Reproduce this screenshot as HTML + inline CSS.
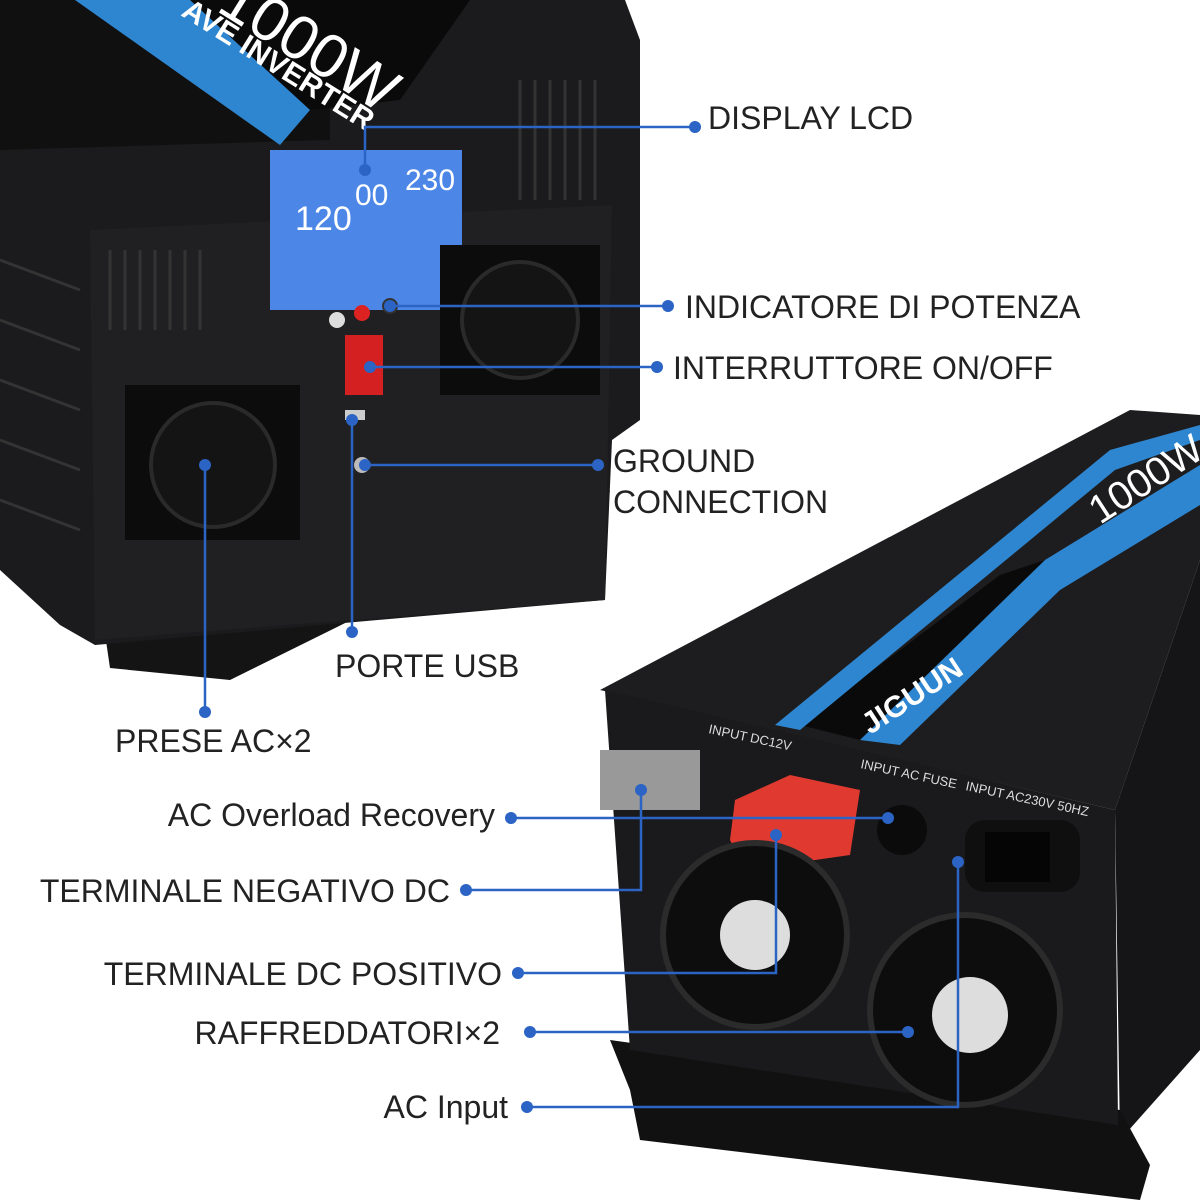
<!DOCTYPE html>
<html><head><meta charset="utf-8"><style>
html,body{margin:0;padding:0;background:#fff;}
svg{display:block;}
text{font-family:"Liberation Sans",sans-serif;}
</style></head><body>
<svg width="1200" height="1200" viewBox="0 0 1200 1200" xmlns="http://www.w3.org/2000/svg">
<rect width="1200" height="1200" fill="#fff"/>
<!-- TOP INVERTER -->
<polygon points="100,600 600,462 610,492 230,680 110,668" fill="#141414"/>
<polygon points="0,0 625,0 640,40 640,420 612,440 605,600 95,645 60,625 0,570" fill="#1b1b1d"/>
<polygon points="0,0 330,0 330,140 0,150" fill="#101010"/>
<polygon points="190,0 470,0 400,100 310,110" fill="#0a0a0a"/>
<polygon points="75,0 190,0 310,110 280,145" fill="#2f86d0"/>
<text x="0" y="0" transform="translate(180,15) rotate(32)" font-size="30" fill="#fff" font-weight="bold">AVE INVERTER</text>
<text x="0" y="0" transform="translate(215,10) rotate(32)" font-size="62" fill="#fff">1000W</text>
<polygon points="90,230 612,205 605,600 95,640" fill="#202022"/>
<g stroke="#333" stroke-width="3">
<line x1="110" y1="250" x2="110" y2="330"/><line x1="125" y1="250" x2="125" y2="330"/><line x1="140" y1="250" x2="140" y2="330"/><line x1="155" y1="250" x2="155" y2="330"/><line x1="170" y1="250" x2="170" y2="330"/><line x1="185" y1="250" x2="185" y2="330"/><line x1="200" y1="250" x2="200" y2="330"/>
<line x1="520" y1="80" x2="520" y2="200"/><line x1="535" y1="80" x2="535" y2="200"/><line x1="550" y1="80" x2="550" y2="200"/><line x1="565" y1="80" x2="565" y2="200"/><line x1="580" y1="80" x2="580" y2="200"/><line x1="595" y1="80" x2="595" y2="200"/>
<line x1="0" y1="260" x2="80" y2="290"/><line x1="0" y1="320" x2="80" y2="350"/><line x1="0" y1="380" x2="80" y2="410"/><line x1="0" y1="440" x2="80" y2="470"/><line x1="0" y1="500" x2="80" y2="530"/>
</g>
<rect x="270" y="150" width="192" height="160" fill="#4c86e6"/>
<text x="295" y="230" font-size="34" fill="#fff">120</text>
<text x="355" y="205" font-size="30" fill="#fff">00</text>
<text x="405" y="190" font-size="30" fill="#fff">230</text>
<rect x="125" y="385" width="175" height="155" fill="#0c0c0c"/>
<circle cx="213" cy="465" r="62" fill="#141414" stroke="#2a2a2a" stroke-width="4"/>
<rect x="440" y="245" width="160" height="150" fill="#0c0c0c"/>
<circle cx="520" cy="320" r="58" fill="#141414" stroke="#2a2a2a" stroke-width="4"/>
<rect x="345" y="335" width="38" height="60" fill="#d42020"/>
<circle cx="337" cy="320" r="8" fill="#ddd"/><circle cx="362" cy="313" r="8" fill="#d22"/><circle cx="390" cy="306" r="8" fill="#333"/>
<rect x="345" y="410" width="20" height="10" fill="#ccc"/>
<circle cx="362" cy="465" r="8" fill="#bbb"/>
<!-- BOTTOM INVERTER -->
<polygon points="600,690 1130,410 1200,415 1200,560 1115,810" fill="#1d1d1f"/>
<polygon points="800,725 1000,575 1045,560 860,740" fill="#0a0a0a"/>
<polygon points="860,740 1045,560 1200,465 1200,505 1060,590 900,745" fill="#2f86d0"/>
<polygon points="775,725 1110,450 1200,425 1200,440 1115,470 800,730" fill="#2f86d0"/>
<text transform="translate(1100,525) rotate(-33)" font-size="40" fill="#fff">1000W</text>
<text transform="translate(870,735) rotate(-33)" font-size="30" fill="#fff" font-weight="bold">JIGUUN</text>
<polygon points="1115,810 1200,560 1200,1050 1120,1140" fill="#151517"/>
<polygon points="610,1040 1120,1110 1150,1165 1140,1200 640,1140 630,1090" fill="#111"/>
<polygon points="605,690 1115,810 1118,1125 630,1050" fill="#1a1a1c"/>
<text transform="translate(708,733) rotate(12)" font-size="13" fill="#ddd" font-family="Liberation Serif">INPUT DC12V</text>
<text transform="translate(860,768) rotate(12)" font-size="13" fill="#ddd" font-family="Liberation Serif">INPUT AC FUSE</text>
<text transform="translate(965,790) rotate(12)" font-size="13" fill="#ddd" font-family="Liberation Serif">INPUT AC230V 50HZ</text>
<rect x="600" y="750" width="100" height="60" fill="#999"/>
<polygon points="735,800 790,775 860,790 850,855 745,870 730,840" fill="#e03a30"/>
<circle cx="902" cy="830" r="25" fill="#0b0b0b"/>
<rect x="965" y="820" width="115" height="72" rx="20" fill="#0f0f0f"/>
<rect x="985" y="832" width="65" height="50" fill="#050505"/>
<circle cx="755" cy="935" r="92" fill="#0d0d0d" stroke="#2b2b2b" stroke-width="6"/>
<circle cx="755" cy="935" r="35" fill="#ddd"/>
<circle cx="965" cy="1010" r="95" fill="#0d0d0d" stroke="#2b2b2b" stroke-width="6"/>
<circle cx="970" cy="1015" r="38" fill="#ddd"/>
<!-- CALLOUT LINES -->
<g stroke="#2b64c4" stroke-width="2.5" fill="none">
<polyline points="365,170 365,127 695,127"/>
<line x1="390" y1="306" x2="668" y2="306"/>
<line x1="370" y1="367" x2="657" y2="367"/>
<line x1="365" y1="465" x2="598" y2="465"/>
<line x1="352" y1="420" x2="352" y2="632"/>
<line x1="205" y1="465" x2="205" y2="712"/>
<line x1="511" y1="818" x2="888" y2="818"/>
<polyline points="466,890 641,890 641,790"/>
<polyline points="518,973 776,973 776,835"/>
<line x1="530" y1="1032" x2="908" y2="1032"/>
<polyline points="527,1107 958,1107 958,862"/>
</g>
<g fill="#2b64c4">
<circle cx="695" cy="127" r="6"/><circle cx="365" cy="170" r="6"/>
<circle cx="668" cy="306" r="6"/><circle cx="390" cy="306" r="6"/>
<circle cx="657" cy="367" r="6"/><circle cx="370" cy="367" r="6"/>
<circle cx="598" cy="465" r="6"/><circle cx="365" cy="465" r="6"/>
<circle cx="352" cy="632" r="6"/><circle cx="352" cy="420" r="6"/>
<circle cx="205" cy="712" r="6"/><circle cx="205" cy="465" r="6"/>
<circle cx="511" cy="818" r="6"/><circle cx="888" cy="818" r="6"/>
<circle cx="466" cy="890" r="6"/><circle cx="641" cy="790" r="6"/>
<circle cx="518" cy="973" r="6"/><circle cx="776" cy="835" r="6"/>
<circle cx="530" cy="1032" r="6"/><circle cx="908" cy="1032" r="6"/>
<circle cx="527" cy="1107" r="6"/><circle cx="958" cy="862" r="6"/>
</g>
<g font-size="32" fill="#222">
<text x="708" y="129">DISPLAY LCD</text>
<text x="685" y="318">INDICATORE DI POTENZA</text>
<text x="673" y="379">INTERRUTTORE ON/OFF</text>
<text x="613" y="472">GROUND</text>
<text x="613" y="513">CONNECTION</text>
<text x="335" y="677">PORTE USB</text>
<text x="115" y="752">PRESE AC×2</text>
<text x="495" y="826" text-anchor="end">AC Overload Recovery</text>
<text x="450" y="902" text-anchor="end">TERMINALE NEGATIVO DC</text>
<text x="502" y="985" text-anchor="end">TERMINALE DC POSITIVO</text>
<text x="500" y="1044" text-anchor="end">RAFFREDDATORI×2</text>
<text x="508" y="1118" text-anchor="end">AC Input</text>
</g>
</svg>
</body></html>
